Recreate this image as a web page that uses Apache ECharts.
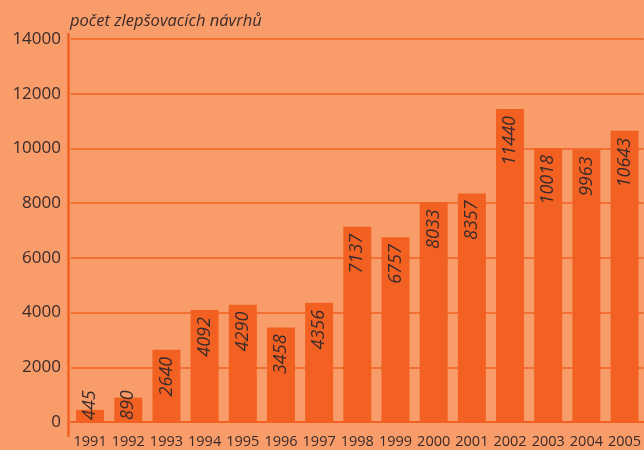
<!DOCTYPE html>
<html>
<head>
<meta charset="utf-8">
<script src="https://cdn.jsdelivr.net/npm/echarts@6/dist/echarts.min.js"></script>
<style>
html,body{margin:0;padding:0;background:#f89c6a;}
#chart{width:644px;height:450px;}
</style>
</head>
<body>
<div id="chart"></div>
<script>
// roky a počty zlepšovacích návrhů
var years = ['1991','1992','1993','1994','1995','1996','1997','1998','1999','2000','2001','2002','2003','2004','2005'];
var counts = [445, 890, 2640, 4092, 4290, 3458, 4356, 7137, 6757, 8033, 8357, 11440, 10018, 9963, 10643];
var yTicks = [0, 2000, 4000, 6000, 8000, 10000, 12000, 14000];

var orange = '#f26122';
var textColor = '#3a2b2b';

var chart = echarts.init(document.getElementById('chart'));

var barData = [];
for (var i = 0; i < counts.length; i++) {
    var item = { value: counts[i] };
    // malé sloupce: popisek stojí u osy
    if (counts[i] < 1500) {
        item.label = { position: 'insideBottom', align: 'left', distance: 2 };
    }
    barData.push(item);
}

var option = {
    backgroundColor: '#f89c6a',
    animation: false,
    grid: { left: 71, right: -4, top: 39, bottom: 28, containLabel: false },
    title: {
        text: 'počet zlepšovacích návrhů',
        left: 65, top: 8,
        textStyle: { fontFamily: 'Open Sans', fontStyle: 'italic', fontWeight: 'normal', fontSize: 16.5, color: textColor }
    },
    graphic: [{
        type: 'line',
        shape: { x1: 68.5, y1: 33, x2: 68.5, y2: 437 },
        style: { stroke: orange, lineWidth: 2.5 },
        z: 10
    }],
    xAxis: {
        type: 'category',
        data: years,
        axisLine: { show: true, lineStyle: { color: orange, width: 2 } },
        axisTick: { show: false },
        axisLabel: { fontFamily: 'Open Sans', fontSize: 14.5, color: textColor, margin: 12, interval: 0 }
    },
    yAxis: {
        type: 'value',
        min: 0, max: yTicks[yTicks.length - 1], interval: 2000,
        axisLine: { show: false },
        axisTick: { show: false },
        splitLine: { lineStyle: { color: orange, width: 1.5 } },
        axisLabel: { fontFamily: 'Open Sans', fontSize: 17, color: textColor, margin: 10, formatter: function (v) { return String(v); } }
    },
    series: [{
        type: 'bar',
        data: barData,
        barWidth: 28,
        itemStyle: { color: orange },
        label: {
            show: true,
            position: 'insideTop',
            rotate: 90,
            align: 'right',
            verticalAlign: 'middle',
            distance: 7,
            fontFamily: 'Open Sans',
            fontStyle: 'italic',
            fontSize: 18,
            color: textColor
        }
    }]
};

chart.setOption(option, true);
</script>
</body>
</html>
